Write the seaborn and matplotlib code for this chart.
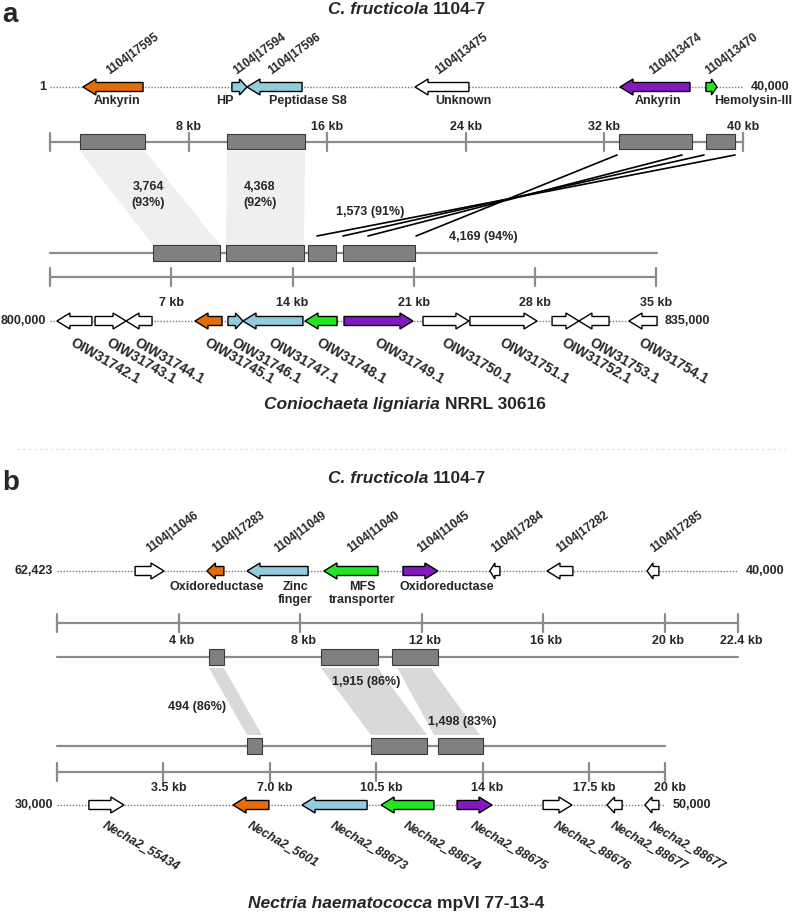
import numpy as np
import pandas as pd
import matplotlib
matplotlib.use("Agg")
import matplotlib.pyplot as plt
from matplotlib.patches import Polygon, Rectangle
from matplotlib.lines import Line2D
import seaborn as sns

# ---------------- panel a : C. fructicola vs Coniochaeta ligniaria (kb) ----------------
a_top_ids = ["1104|17595", "1104|17594", "1104|17596", "1104|13475", "1104|13474", "1104|13470"]
a_top_start = [1.90, 10.50, 11.37, 21.07, 32.90, 37.86]
a_top_end = [5.37, 11.37, 14.55, 24.18, 36.94, 38.50]
a_top_strand = [-1, 1, -1, -1, -1, 1]
a_top_class = ["ank", "pep", "pep", "unk", "ank2", "hem"]
a_top_func = ["Ankyrin", "HP", "Peptidase S8", "Unknown", "Ankyrin", "Hemolysin-III"]
a_top_func_x = [3.87, 10.10, 14.89, 23.84, 35.09, 40.58]
a_top_range = ["1", "40,000"]
a_top_len = 40.0
a_top_ticks = [0, 8, 16, 24, 32, 40]
a_top_tick_labels = ["", "8 kb", "16 kb", "24 kb", "32 kb", "40 kb"]
a_top_blk_start = [1.73, 10.22, 32.84, 37.86]
a_top_blk_end = [5.48, 14.72, 37.06, 39.54]

a_bot_ids = ["OIW31742.1", "OIW31743.1", "OIW31744.1", "OIW31745.1", "OIW31746.1",
             "OIW31747.1", "OIW31748.1", "OIW31749.1", "OIW31750.1", "OIW31751.1",
             "OIW31752.1", "OIW31753.1", "OIW31754.1"]
a_bot_start = [0.40, 2.60, 4.39, 8.37, 10.27, 11.14, 14.72, 16.97, 21.53, 24.24, 28.98, 30.53, 33.42]
a_bot_end = [2.42, 4.39, 5.89, 9.93, 11.14, 14.60, 16.57, 20.95, 24.18, 28.11, 30.53, 32.27, 35.04]
a_bot_strand = [-1, 1, -1, -1, 1, -1, -1, 1, 1, 1, 1, -1, -1]
a_bot_class = ["unk", "unk", "unk", "ank", "pep", "pep", "hem", "ank2", "unk", "unk", "unk", "unk", "unk"]
a_bot_range = ["800,000", "835,000"]
a_bot_len = 35.04
a_bot_ticks = [0, 7, 14, 21, 28, 35]
a_bot_tick_labels = ["", "7 kb", "14 kb", "21 kb", "28 kb", "35 kb"]
a_bot_blk_start = [5.95, 10.16, 14.89, 16.91]
a_bot_blk_end = [9.81, 14.66, 16.51, 21.07]

# collinear hits (shaded) and inverted hits (crossing lines)
a_hit_top = [(1.73, 5.48), (10.22, 14.72)]
a_hit_bot = [(5.95, 9.81), (10.16, 14.66)]
a_hit_text = ["3,764\n(93%)", "4,368\n(92%)"]
a_hit_text_x = [5.66, 12.12]
a_inv_top = [32.73, 36.48, 37.75, 39.54]
a_inv_bot = [21.13, 18.35, 16.91, 15.41]
a_inv_text = ["1,573 (91%)", "4,169 (94%)"]
a_inv_text_x = [18.47, 24.99]

# ---------------- panel b : C. fructicola vs Nectria haematococca (kb) ----------------
b_top_ids = ["1104|11046", "1104|17283", "1104|11049", "1104|11040", "1104|11045",
             "1104|17284", "1104|17282", "1104|17285"]
b_top_start = [2.57, 4.93, 6.25, 8.78, 11.38, 14.24, 16.12, 19.41]
b_top_end = [3.52, 5.49, 8.26, 10.56, 12.53, 14.57, 16.97, 19.80]
b_top_strand = [1, -1, -1, -1, 1, -1, -1, -1]
b_top_class = ["unk", "ank", "pep", "hem", "ank2", "unk", "unk", "unk"]
b_top_func = ["Oxidoreductase", "Zinc\nfinger", "MFS\ntransporter", "Oxidoreductase"]
b_top_func_x = [5.26, 7.83, 10.03, 12.83]
b_top_range = ["62,423", "40,000"]
b_top_len = 22.4
b_top_ticks = [0, 4, 8, 12, 16, 20, 22.4]
b_top_tick_labels = ["", "4 kb", "8 kb", "12 kb", "16 kb", "20 kb", "22.4 kb"]
b_top_blk_start = [5.00, 8.68, 11.02]
b_top_blk_end = [5.49, 10.56, 12.53]

b_bot_ids = ["Necha2_55434", "Necha2_5601", "Necha2_88673", "Necha2_88674", "Necha2_88675",
             "Necha2_88676", "Necha2_88677", "Necha2_88677"]
b_bot_start = [1.05, 5.79, 8.06, 10.66, 13.16, 15.99, 18.09, 19.34]
b_bot_end = [2.20, 6.97, 10.20, 12.40, 14.31, 16.94, 18.59, 19.80]
b_bot_strand = [1, -1, -1, -1, 1, 1, -1, -1]
b_bot_class = ["unk", "ank", "pep", "hem", "ank2", "unk", "unk", "unk"]
b_bot_range = ["30,000", "50,000"]
b_bot_len = 20.0
b_bot_ticks = [0, 3.5, 7, 10.5, 14, 17.5, 20]
b_bot_tick_labels = ["", "3.5 kb", "7.0 kb", "10.5 kb", "14 kb", "17.5 kb", "20 kb"]
b_bot_blk_start = [6.25, 10.33, 12.53]
b_bot_blk_end = [6.74, 12.17, 14.01]

b_hit_top = [(5.00, 5.49), (8.68, 10.56), (11.20, 12.30)]
b_hit_bot = [(6.25, 6.74), (10.33, 12.17), (12.40, 13.91)]
b_hit_text = ["494 (86%)", "1,915 (86%)", "1,498 (83%)"]
b_hit_text_x = [4.61, 10.16, 13.32]

gene_colors = {"ank": "#E46C0A", "pep": "#93CDDD", "hem": "#22E622",
               "ank2": "#8419C0", "unk": "white"}

# ---------------- layout (pixels) ----------------
W, H = 792, 913
SPLIT = 449
GREY = "#8c8c8c"

sns.set_theme(style="white")
plt.rcParams["font.family"] = ["Liberation Sans", "DejaVu Sans"]
plt.rcParams["font.weight"] = "bold"

fig = plt.figure(figsize=(W / 100, H / 100), dpi=100)


def make_axes(top, bottom, x0, scale):
    ax = fig.add_axes([0, 1 - bottom / H, 1, (bottom - top) / H])
    ax.set_xlim(-x0 / scale, (W - x0) / scale)
    ax.set_ylim(bottom, top)
    ax.axis("off")
    return ax


def gene(ax, s, e, strand, y, color, scale):
    head = min(13 / scale, 0.5 * (e - s))
    bh, hh = 4.5, 8
    if strand > 0:
        tip, base, tail = e, e - head, s
    else:
        tip, base, tail = s, s + head, e
    pts = [(tail, y - bh), (base, y - bh), (base, y - hh), (tip, y),
           (base, y + hh), (base, y + bh), (tail, y + bh)]
    ax.add_patch(Polygon(pts, closed=True, fc=color, ec="black", lw=1, zorder=3))


def backbone(ax, length, y, ends):
    ax.plot([0, length], [y, y], ls=(0, (1, 1.2)), color="#7a7a7a", lw=1, zorder=1)
    ax.annotate(ends[0], (0, y), xytext=(-4, 0), textcoords="offset pixels",
                ha="right", va="center", fontsize=9, fontweight="bold")
    ax.annotate(ends[1], (length, y), xytext=(8, 0), textcoords="offset pixels",
                ha="left", va="center", fontsize=9, fontweight="bold")


def scale_bar(ax, ticks, labels, y, label_y, dx=0):
    ax.plot([ticks[0], ticks[-1]], [y, y], color=GREY, lw=1.6, zorder=1)
    for t, lab in zip(ticks, labels):
        ax.plot([t, t], [y - 9, y + 9], color=GREY, lw=1.6, zorder=1)
        if lab:
            ax.annotate(lab, (t, label_y), xytext=(dx, 0), textcoords="offset pixels",
                        ha="center", va="center", fontsize=9, fontweight="bold")


def blocks(ax, starts, ends, y, h):
    for s, e in zip(starts, ends):
        ax.add_patch(Rectangle((s, y - h / 2), e - s, h, fc="#808080", ec="#3a3a3a",
                               lw=0.8, zorder=2))


def shade(ax, top, bot, y_top, y_bot, color):
    for (ts, te), (bs, be) in zip(top, bot):
        ax.add_patch(Polygon([(ts, y_top), (te, y_top), (be, y_bot), (bs, y_bot)],
                             closed=True, fc=color, ec="none", zorder=0))


def mixed_text(cx, base_y, parts, size):
    r = fig.canvas.get_renderer()
    arts = [fig.text(0, 1 - base_y / H, s, fontsize=size, fontweight="bold",
                     fontstyle=st, ha="left", va="baseline") for s, st in parts]
    widths = [a.get_window_extent(r).width for a in arts]
    gap = size * 100 / 72 * 0.278
    x = cx - (sum(widths) + gap * (len(widths) - 1)) / 2
    for a, w in zip(arts, widths):
        a.set_x(x / W)
        x += w + gap


# ---------------- panel a ----------------
sa = 17.325
ax_a = make_axes(0, SPLIT, 50, sa)

backbone(ax_a, a_top_len, 87, a_top_range)
for i, s in enumerate(a_top_start):
    c = (s + a_top_end[i]) / 2
    gene(ax_a, s, a_top_end[i], a_top_strand[i], 87, gene_colors[a_top_class[i]], sa)
    ax_a.annotate(a_top_ids[i], (c, 87), xytext=(-3, 12), textcoords="offset pixels",
                  rotation=36, rotation_mode="anchor", ha="left", va="baseline",
                  fontsize=8.5, fontweight="bold")
for txt, x in zip(a_top_func, a_top_func_x):
    ax_a.text(x, 101, txt, ha="center", va="center", fontsize=9, fontweight="bold")

scale_bar(ax_a, a_top_ticks, a_top_tick_labels, 142, 127)
blocks(ax_a, a_top_blk_start, a_top_blk_end, 142, 15)

shade(ax_a, a_hit_top, a_hit_bot, 151, 245, "#efefef")
for txt, x in zip(a_hit_text, a_hit_text_x):
    ax_a.text(x, 195, txt, ha="center", va="center", fontsize=9, fontweight="bold",
              linespacing=1.35)

inv = pd.DataFrame({
    "x": [v for pair in zip(a_inv_top, a_inv_bot) for v in pair],
    "y": [155, 236] * len(a_inv_top),
    "hit": np.repeat(np.arange(len(a_inv_top)), 2),
})
sns.lineplot(data=inv, x="x", y="y", units="hit", estimator=None, sort=False,
             color="black", lw=1.2, ax=ax_a, legend=False)
ax_a.text(a_inv_text_x[0], 212, a_inv_text[0], ha="center", va="center",
          fontsize=9, fontweight="bold")
ax_a.text(a_inv_text_x[1], 237, a_inv_text[1], ha="center", va="center",
          fontsize=9, fontweight="bold")

ax_a.plot([0, a_bot_len], [253, 253], color=GREY, lw=1.6, zorder=1)
blocks(ax_a, a_bot_blk_start, a_bot_blk_end, 253, 16)
scale_bar(ax_a, a_bot_ticks, a_bot_tick_labels, 277, 303)

backbone(ax_a, a_bot_len, 321, a_bot_range)
for i, s in enumerate(a_bot_start):
    c = (s + a_bot_end[i]) / 2
    gene(ax_a, s, a_bot_end[i], a_bot_strand[i], 321, gene_colors[a_bot_class[i]], sa)
    ax_a.annotate(a_bot_ids[i], (c, 321), xytext=(0, -14), textcoords="offset pixels",
                  rotation=-30, rotation_mode="anchor", ha="left", va="top",
                  fontsize=10, fontweight="bold")

ax_a.set_xlim(-50 / sa, (W - 50) / sa)
ax_a.set_ylim(SPLIT, 0)
ax_a.axis("off")

# ---------------- panel b ----------------
sb = 30.4
ax_b = make_axes(SPLIT, H, 57, sb)

backbone(ax_b, b_top_len, 571, b_top_range)
for i, s in enumerate(b_top_start):
    c = (s + b_top_end[i]) / 2
    gene(ax_b, s, b_top_end[i], b_top_strand[i], 571, gene_colors[b_top_class[i]], sb)
    ax_b.annotate(b_top_ids[i], (c, 571), xytext=(0, 18), textcoords="offset pixels",
                  rotation=36, rotation_mode="anchor", ha="left", va="baseline",
                  fontsize=8.5, fontweight="bold")
for txt, x in zip(b_top_func, b_top_func_x):
    ax_b.text(x, 581, txt, ha="center", va="top", fontsize=9, fontweight="bold",
              linespacing=1.15)

scale_bar(ax_b, b_top_ticks, b_top_tick_labels, 623, 641, dx=3)

ax_b.plot([0, b_top_len], [657, 657], color=GREY, lw=1.6, zorder=1)
blocks(ax_b, b_top_blk_start, b_top_blk_end, 657, 16)
ax_b.plot([0, b_bot_len], [746, 746], color=GREY, lw=1.6, zorder=1)
blocks(ax_b, b_bot_blk_start, b_bot_blk_end, 746, 16)
shade(ax_b, b_hit_top, b_hit_bot, 668, 735, "#d9d9d9")
for txt, x, y in zip(b_hit_text, b_hit_text_x, [707, 682, 722]):
    ax_b.text(x, y, txt, ha="center", va="center", fontsize=9, fontweight="bold")

scale_bar(ax_b, b_bot_ticks, b_bot_tick_labels, 772, 788, dx=5)

backbone(ax_b, b_bot_len, 805, b_bot_range)
for i, s in enumerate(b_bot_start):
    c = (s + b_bot_end[i]) / 2
    gene(ax_b, s, b_bot_end[i], b_bot_strand[i], 805, gene_colors[b_bot_class[i]], sb)
    ax_b.annotate(b_bot_ids[i], (c, 805), xytext=(0, -14), textcoords="offset pixels",
                  rotation=-30, rotation_mode="anchor", ha="left", va="top",
                  fontsize=9, fontweight="bold", fontstyle="italic")

# ---------------- titles, panel letters, separator ----------------
fig.text(2 / W, 1 - 15 / H, "a", fontsize=20, fontweight="bold", va="center", ha="left")
fig.text(2 / W, 1 - 483 / H, "b", fontsize=20, fontweight="bold", va="center", ha="left")
mixed_text(407, 14, [("C. fructicola", "italic"), ("1104-7", "normal")], 12.5)
mixed_text(405, 409, [("Coniochaeta ligniaria", "italic"), ("NRRL 30616", "normal")], 12.5)
mixed_text(407, 483, [("C. fructicola", "italic"), ("1104-7", "normal")], 12.5)
mixed_text(396, 908, [("Nectria haematococca", "italic"), ("mpVI 77-13-4", "normal")], 12.5)
fig.add_artist(Line2D([17 / W, 785 / W], [1 - SPLIT / H] * 2, color="#e6e6e6",
                      lw=1, ls=(0, (2, 2))))

fig.savefig("out.png", dpi=100)
